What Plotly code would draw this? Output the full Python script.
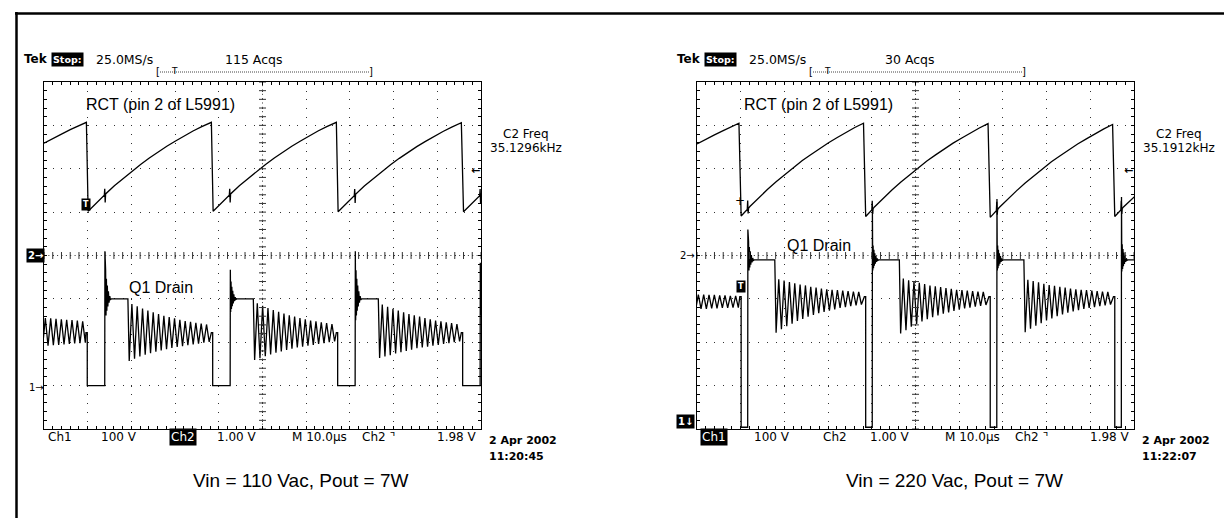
import numpy as np
import plotly.graph_objects as go

W, H = 1232, 518

# ---------------- data ----------------
# horizontal: time in microseconds (10 div x 10 us); vertical: screen divisions (-4 .. 4)
time_range_us = [0, 100]
div_range = [-4, 4]

# ===== left scope : Vin = 110 Vac =====
rct110_head_t = [0.0, 2.0, 4.0, 6.0, 8.0, 9.7]
rct110_head_v = [2.59, 2.70, 2.80, 2.90, 2.99, 3.07]
rct110_trough_t = [10.1, 38.7, 67.3, 96.0]
rct110_trough_v = [1.02, 1.02, 1.01, 1.01]
rct110_ramp_dt = [0, 2, 3.7, 3.8, 3.9, 4.0, 6, 8, 10, 12, 14, 16, 18, 20, 22, 24, 26, 28.2]
rct110_ramp_rise = [0, 0.21, 0.37, 0.52, 0.20, 0.40, 0.59, 0.76, 0.92, 1.08, 1.23, 1.37,
                    1.50, 1.62, 1.74, 1.85, 1.95, 2.05]

drain110_on_t = [9.9, 38.6, 67.2, 95.8]
drain110_off_t = [13.9, 42.6, 71.2, 99.8]
drain110_spike_v = [0.10, -0.33, 0.10, -0.17]
drain110_blob_amp = [1.10, 0.67, 1.10, 0.83]
drain110_low_v = -3.0
drain110_plateau_v = -1.0
drain110_ring_end_v = -1.78
drain110_ring_t0 = [-0.3, 19.5, 48.2, 76.8]
drain110_ring_half_us = 0.61
drain110_ring_a = [-2.08, -1.44, -2.08, -1.45, -2.07, -1.46, -2.06, -1.47, -2.05, -1.48, -2.04,
                   -1.49, -2.03, -1.50, -2.02, -1.52, -2.01]
drain110_ring_b = [-2.43, -1.12, -2.38, -1.17, -2.33, -1.22, -2.29, -1.27, -2.25, -1.31, -2.22,
                   -1.35, -2.19, -1.39, -2.16, -1.42, -2.13, -1.45, -2.11, -1.48, -2.09, -1.51,
                   -2.07, -1.53, -2.05, -1.55, -2.03, -1.57, -2.01, -1.59, -1.99]
drain110_ring_c = [-2.41, -1.10, -2.37, -1.16, -2.32, -1.21, -2.28, -1.26, -2.24, -1.30, -2.21,
                   -1.34, -2.18, -1.38, -2.15, -1.41, -2.12, -1.44, -2.10, -1.47, -2.08, -1.50,
                   -2.06, -1.52, -2.04, -1.54, -2.02, -1.56, -2.00, -1.58, -1.98]
drain110_ring_d = [-2.36, -1.13, -2.33, -1.18, -2.30, -1.23, -2.26, -1.27, -2.23, -1.31, -2.20,
                   -1.35, -2.17, -1.38, -2.14, -1.41, -2.12, -1.44, -2.10, -1.47, -2.08, -1.50,
                   -2.06, -1.52, -2.04, -1.54, -2.02, -1.56, -2.00, -1.58, -1.98]

# ===== right scope : Vin = 220 Vac =====
rct220_head_t = [0.0, 2.0, 4.0, 6.0, 8.0, 9.6]
rct220_head_v = [2.57, 2.68, 2.78, 2.88, 2.97, 3.05]
rct220_trough_t = [10.1, 38.6, 67.1, 95.6]
rct220_trough_v = [0.91, 0.90, 0.88, 0.90]
rct220_ramp_dt = [0, 1.4, 1.5, 1.6, 1.7, 2, 4, 6, 8, 10, 12, 14, 16, 18, 20, 22, 24, 26, 28.0]
rct220_ramp_rise = [0, 0.15, 0.36, 0.06, 0.18, 0.22, 0.42, 0.61, 0.79, 0.96, 1.12, 1.28, 1.42,
                    1.56, 1.69, 1.81, 1.93, 2.04, 2.14]

drain220_on_t = [10.1, 38.6, 67.1, 95.6]
drain220_off_t = [11.6, 40.1, 68.6, 97.1]
drain220_spike_v = [0.60, 1.00, 1.30, 1.35]
drain220_blob_amp = [0.70, 0.55, 0.55, 0.60]
drain220_low_v = -3.96
drain220_plateau_v = -0.10
drain220_ring_end_v = -0.95
drain220_ring_t0 = [-0.3, 18.1, 46.6, 75.1]
drain220_ring_half_us = 0.61
drain220_ring_a = [-1.24, -0.90, -1.23, -0.90, -1.23, -0.91, -1.22, -0.91, -1.22, -0.92, -1.21,
                   -0.92, -1.21, -0.93, -1.20, -0.93, -1.20]
drain220_ring_b = [-1.78, -0.55, -1.70, -0.58, -1.63, -0.61, -1.57, -0.64, -1.51, -0.67, -1.46,
                   -0.69, -1.41, -0.72, -1.37, -0.74, -1.33, -0.76, -1.30, -0.78, -1.27, -0.79,
                   -1.24, -0.80, -1.21, -0.81, -1.19, -0.82, -1.17, -0.83, -1.15, -0.84, -1.13]
drain220_ring_c = [-1.80, -0.53, -1.72, -0.57, -1.64, -0.60, -1.58, -0.63, -1.52, -0.66, -1.47,
                   -0.69, -1.42, -0.71, -1.38, -0.73, -1.34, -0.75, -1.31, -0.77, -1.28, -0.79,
                   -1.25, -0.80, -1.22, -0.81, -1.20, -0.82, -1.18, -0.83, -1.16, -0.84, -1.14]
drain220_ring_d = [-1.77, -0.56, -1.69, -0.59, -1.62, -0.62, -1.56, -0.65, -1.50, -0.68, -1.45,
                   -0.70, -1.40, -0.72, -1.36, -0.74, -1.32, -0.76, -1.29, -0.78, -1.26, -0.79,
                   -1.23, -0.80, -1.21, -0.81, -1.19, -0.82, -1.17, -0.83, -1.15, -0.84, -1.13]

# turn-off overshoot (fast ringing) shape, read from the blobs after each rising edge
blob_dt = [0.12, 0.20, 0.29, 0.38, 0.48, 0.59, 0.71, 0.84, 0.98, 1.15, 1.30, 1.50]
blob_frac = [-0.45, 0.60, -0.35, 0.42, -0.25, 0.28, -0.16, 0.16, -0.08, 0.06, -0.02, 0.0]


# ---------------- assemble traces from the data ----------------
def build_rct(head_t, head_v, trough_t, trough_v, ramp_dt, ramp_rise):
    t, v = list(head_t), list(head_v)
    for T, V in zip(trough_t, trough_v):
        for dt, r in zip(ramp_dt, ramp_rise):
            t.append(T + dt)
            v.append(V + r)
    return t, v


def build_drain(ring_t0, half, rings, ring_end_v, on_t, off_t, spike_v, blob_amp,
                low_v, plateau_v):
    t, v = [], []
    n = len(on_t)
    for i in range(n):
        for k, val in enumerate(rings[i]):
            t.append(ring_t0[i] + k * half)
            v.append(val)
        t += [on_t[i] - 0.3, on_t[i], on_t[i], off_t[i], off_t[i] + 0.04]
        v += [ring_end_v, ring_end_v, low_v, low_v, spike_v[i]]
        for dt, f in zip(blob_dt, blob_frac):
            t.append(off_t[i] + dt)
            v.append(plateau_v + blob_amp[i] * f)
        t.append(ring_t0[i + 1] - 0.3 if i + 1 < n else 101)
        v.append(plateau_v)
    return t, v


rct110 = build_rct(rct110_head_t, rct110_head_v, rct110_trough_t, rct110_trough_v,
                   rct110_ramp_dt, rct110_ramp_rise)
rct220 = build_rct(rct220_head_t, rct220_head_v, rct220_trough_t, rct220_trough_v,
                   rct220_ramp_dt, rct220_ramp_rise)
drain110 = build_drain(drain110_ring_t0, drain110_ring_half_us,
                       [drain110_ring_a, drain110_ring_b, drain110_ring_c, drain110_ring_d],
                       drain110_ring_end_v, drain110_on_t, drain110_off_t, drain110_spike_v,
                       drain110_blob_amp, drain110_low_v, drain110_plateau_v)
drain220 = build_drain(drain220_ring_t0, drain220_ring_half_us,
                       [drain220_ring_a, drain220_ring_b, drain220_ring_c, drain220_ring_d],
                       drain220_ring_end_v, drain220_on_t, drain220_off_t, drain220_spike_v,
                       drain220_blob_amp, drain220_low_v, drain220_plateau_v)

fig = go.Figure()

LINE = dict(color="black", width=1.3)
for (t, v), xa, ya in [(rct110, "x", "y"), (drain110, "x", "y"),
                       (rct220, "x2", "y2"), (drain220, "x2", "y2")]:
    fig.add_trace(go.Scatter(x=t, y=v, xaxis=xa, yaxis=ya, mode="lines", line=LINE,
                             hoverinfo="skip", showlegend=False))

# centre graticule tick marks
minor_t = np.arange(time_range_us[0], time_range_us[1] + 0.01, 2)
minor_d = np.arange(div_range[0], div_range[1] + 0.01, 0.2)
for xa, ya in [("x", "y"), ("x2", "y2")]:
    fig.add_trace(go.Scatter(x=minor_t, y=np.zeros_like(minor_t), xaxis=xa, yaxis=ya,
                             mode="markers", hoverinfo="skip", showlegend=False,
                             marker=dict(symbol="line-ns", size=5,
                                         line=dict(color="#333", width=1))))
    fig.add_trace(go.Scatter(x=np.full_like(minor_d, 50), y=minor_d, xaxis=xa, yaxis=ya,
                             mode="markers", hoverinfo="skip", showlegend=False,
                             marker=dict(symbol="line-ew", size=5,
                                         line=dict(color="#333", width=1))))
    fig.add_shape(type="line", xref=xa, yref=ya, x0=0, x1=100, y0=0, y1=0,
                  line=dict(color="#333", width=1, dash="1px,3.37px"), layer="below")
    fig.add_shape(type="line", xref=xa, yref=ya, x0=50, x1=50, y0=-4, y1=4,
                  line=dict(color="#333", width=1, dash="1px,3.34px"), layer="below")


def axis(domain, rng, major, minor, dash):
    return dict(domain=domain, range=rng, dtick=major, tick0=rng[0], showline=True,
                linecolor="black", linewidth=1, mirror="ticks", ticks="inside", ticklen=3,
                tickwidth=1, tickcolor="black", showticklabels=False, showgrid=True,
                gridcolor="#333", gridwidth=1, griddash=dash, zeroline=False,
                fixedrange=True,
                minor=dict(dtick=minor, tick0=rng[0], ticks="inside", ticklen=3,
                           tickwidth=1, tickcolor="black", showgrid=False))


ytop, ybot = 1 - 74 / H, 1 - 421 / H
fig.update_layout(
    width=W, height=H, margin=dict(l=0, r=0, t=0, b=0),
    paper_bgcolor="white", plot_bgcolor="white", showlegend=False,
    xaxis=axis([36 / W, 473 / W], time_range_us, 10, 2, "1px,7.68px"),
    yaxis=axis([ybot, ytop], div_range, 1, 0.2, "1px,7.74px"),
    xaxis2=axis([689 / W, 1126 / W], time_range_us, 10, 2, "1px,7.68px"),
    yaxis2=axis([ybot, ytop], div_range, 1, 0.2, "1px,7.74px"),
)
fig.layout.xaxis.anchor = "y"
fig.layout.yaxis.anchor = "x"
fig.layout.xaxis2.anchor = "y2"
fig.layout.yaxis2.anchor = "x2"

# outer frame (left and top rules of the page box)
fig.add_shape(type="line", xref="paper", yref="paper", x0=8.5 / W, x1=8.5 / W,
              y0=1 - 4 / H, y1=0, line=dict(color="black", width=2.5))
fig.add_shape(type="line", xref="paper", yref="paper", x0=7 / W, x1=1,
              y0=1 - 5.5 / H, y1=1 - 5.5 / H, line=dict(color="black", width=2.5))

SCOPE_FONT = "DejaVu Sans"
ARIAL = "Liberation Sans, Arial, sans-serif"


def ann(text, x, y, size=12, xanchor="left", color="black", bg=None, family=SCOPE_FONT):
    fig.add_annotation(text=text, x=x / W, y=1 - y / H, xref="paper", yref="paper",
                       xanchor=xanchor, yanchor="middle", showarrow=False,
                       font=dict(family=family, size=size, color=color),
                       bgcolor=bg, borderpad=1 if bg else 0)


for off, acqs, freq, stamp, vin in [(0, "115 Acqs", "35.1296kHz", "11:20:45", "110"),
                                    (653, "30 Acqs", "35.1912kHz", "11:22:07", "220")]:
    ann("<b>Tek</b>", 15 + off, 51, 12)
    ann("<b>Stop:</b>", 43 + off, 51, 9.5, color="white", bg="black")
    ann("25.0MS/s", 87 + off, 51, 12.5)
    ann(acqs, 275 + off, 51, 12.5, xanchor="right")
    ann("[", 150 + off, 64, 10, xanchor="center")
    ann("]", 363 + off, 64, 10, xanchor="center")
    ann("T", 166 + off, 63, 9, xanchor="center")
    fig.add_shape(type="line", xref="paper", yref="paper", x0=(152 + off) / W,
                  x1=(361 + off) / W, y0=1 - 64 / H, y1=1 - 64 / H,
                  line=dict(color="#444", width=1, dash="1px,1px"))
    ann("C2 Freq", 518 + off, 126, 12, xanchor="center")
    ann(freq, 518 + off, 140, 12, xanchor="center")
    ann("<b>←</b>", 467 + off, 162, 11, xanchor="center")
    ann("100 V", 92 + off, 429, 12)
    ann("1.00 V", 208 + off, 429, 12)
    ann("M 10.0µs", 283 + off, 429, 12)
    ann("Ch2 ⌝", 353 + off, 429, 12)
    ann("1.98 V", 470 + off, 429, 12, xanchor="right")
    ann("<b>2 Apr 2002</b>", 480 + off, 432, 11)
    ann("<b>" + stamp + "</b>", 480 + off, 448, 11)
    ann("Vin = " + vin + " Vac, Pout = 7W", 293 + off, 472, 19, xanchor="center", family=ARIAL)

# left scope specific labels
ann("RCT (pin 2 of L5991)", 77, 97, 16, family=ARIAL)
ann("Q1 Drain", 120, 279, 16, family=ARIAL)
ann("Ch1", 39, 429, 12)
ann("Ch2", 161, 429, 12, color="white", bg="black")
ann("<b>2→</b>", 18, 248, 10, color="white", bg="black")
ann("1→", 20, 379, 10)
ann("<b>T</b>", 78, 196, 8, xanchor="center", color="white", bg="black")

# right scope specific labels
ann("RCT (pin 2 of L5991)", 735, 97, 16, family=ARIAL)
ann("Q1 Drain", 778, 237, 16, family=ARIAL)
ann("Ch1", 692, 429, 12, color="white", bg="black")
ann("Ch2", 814, 429, 12)
ann("2→", 688, 248, 10, xanchor="right")
ann("<b>1↓</b>", 687, 413, 10, xanchor="right", color="white", bg="black")
ann("<b>T</b>", 733, 278, 8, xanchor="center", color="white", bg="black")
ann("+", 732, 193, 12, xanchor="center")

fig.write_html("out.html")
